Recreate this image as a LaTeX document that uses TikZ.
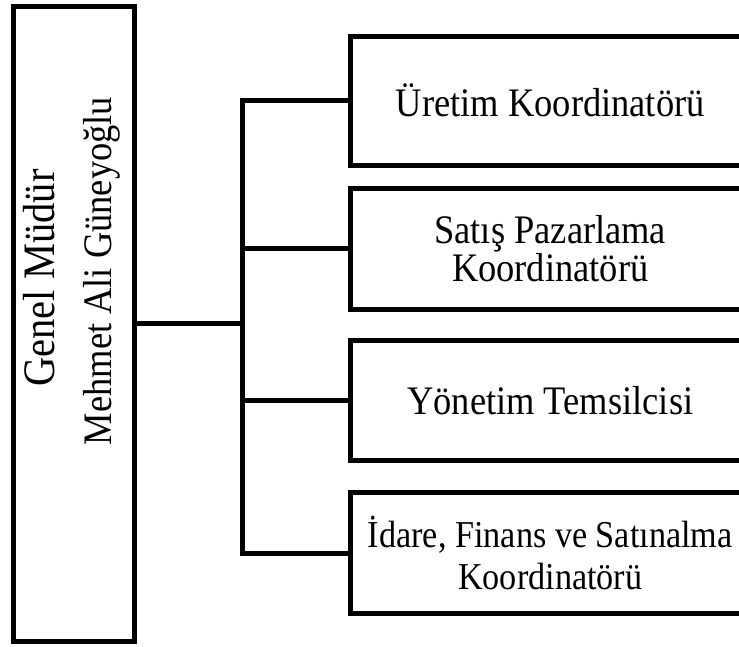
\documentclass[tikz,border=0pt]{standalone}
\usepackage{fontspec}
\setmainfont[FakeStretch=0.9]{Liberation Serif}
\tikzstyle{head} = [rectangle, draw=black, line width=5pt, minimum width=121.5pt, minimum height=634.5pt]
\tikzstyle{unit} = [rectangle, draw=black, line width=5pt, minimum width=399.5pt, minimum height=121pt, inner sep=0pt, align=center, font=\fontsize{40.5}{33}\selectfont]
\tikzstyle{link} = [line width=5pt]

\begin{document}
\begin{tikzpicture}[x=1pt,y=-1pt]%
	\clip (0,0) rectangle (739,646);%
	\node [head] (gm) at (73.75,323.75) {};%
	\node [rotate=90, align=center, font=\fontsize{40.5}{57}\selectfont] (gmname) at (72,271) {{\fontsize{45}{57}\selectfont Genel Müdür\hspace*{14pt}}\\Mehmet Ali Güneyoğlu};%
	\node [unit, minimum height=129pt] (uretim) at (550.25,100.5) {Üretim Koordinatörü};%
	\node [unit] (satis) at (550.25,248.75) {Satış Pazarlama\\Koordinatörü};%
	\node [unit, minimum height=120pt] (yonetim) at (550.25,400.5) {Yönetim Temsilcisi};%
	\node [unit, font=\fontsize{38}{33}\selectfont] (idare) at (550.25,553.25) {İdare, Finans ve Satınalma\\[9pt]Koordinatörü};%
	\coordinate (bus) at (242.5,323.75);%
	\draw [link] (gm.east) -- (bus);%
	\foreach \n in {uretim,satis,yonetim,idare}%
		\draw [link] (bus) |- (\n.west);%
\end{tikzpicture}
\end{document}
